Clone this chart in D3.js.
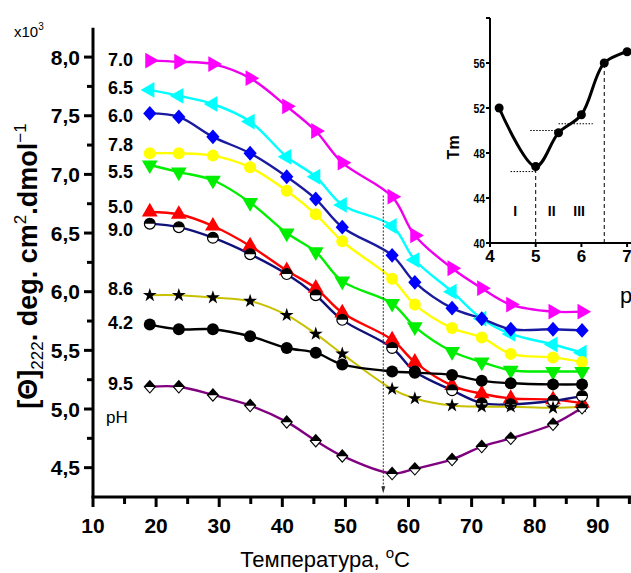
<!DOCTYPE html>
<html>
<head>
<meta charset="utf-8">
<script src="https://cdn.jsdelivr.net/npm/d3@7"></script>
<style>
  html, body { margin: 0; padding: 0; background: #fff; }
  svg { display: block; font-family: "Liberation Sans", Arial, sans-serif; }
</style>
</head>
<body>
<svg id="chart" width="631" height="573"></svg>
<script>
// Temperatures (°C) at which ellipticity was measured
const temps = [19, 23.6, 29, 34.9, 40.7, 45.3, 49.5, 57.4, 61, 66.9, 71.6, 76.2, 82.9, 87.5];

// [Θ]222 (×10^3 deg·cm²·dmol⁻¹) for each pH
const pH70 = [7.97, 7.96, 7.94, 7.82, 7.58, 7.37, 7.10, 6.81, 6.48, 6.20, 6.03, 5.89, 5.83, 5.83];
const pH65 = [7.72, 7.67, 7.60, 7.45, 7.15, 6.98, 6.74, 6.56, 6.27, 6.00, 5.77, 5.64, 5.55, 5.48];
const pH60 = [7.52, 7.49, 7.32, 7.18, 6.98, 6.79, 6.55, 6.31, 6.08, 5.86, 5.77, 5.68, 5.68, 5.67];
const pH78 = [7.18, 7.18, 7.16, 7.06, 6.86, 6.66, 6.43, 6.11, 5.89, 5.69, 5.61, 5.47, 5.44, 5.40];
const pH55 = [7.08, 7.02, 6.95, 6.76, 6.50, 6.34, 6.09, 5.90, 5.70, 5.49, 5.40, 5.33, 5.32, 5.32];
const pH50 = [6.68, 6.66, 6.56, 6.39, 6.18, 6.03, 5.82, 5.59, 5.40, 5.20, 5.13, 5.09, 5.08, 5.05];
const pH90 = [6.58, 6.55, 6.46, 6.32, 6.15, 5.97, 5.76, 5.52, 5.32, 5.16, 5.05, 5.04, 5.07, 5.11];
const pH86 = [5.97, 5.97, 5.95, 5.92, 5.80, 5.64, 5.47, 5.17, 5.09, 5.03, 5.02, 5.02, 5.01, 5.02];
const pH42 = [5.72, 5.68, 5.68, 5.62, 5.52, 5.48, 5.38, 5.32, 5.31, 5.29, 5.24, 5.22, 5.21, 5.21];
const pH95 = [5.19, 5.19, 5.12, 5.03, 4.89, 4.73, 4.60, 4.45, 4.49, 4.57, 4.68, 4.75, 4.87, 5.01];

// Series labels printed at the left of the curves (top to bottom)
const seriesLabels = ["7.0", "6.5", "6.0", "7.8", "5.5", "5.0", "9.0", "8.6", "4.2", "9.5"];

// Main axis ticks
const yTicks = [4.5, 5.0, 5.5, 6.0, 6.5, 7.0, 7.5, 8.0];
const xTicks = [10, 20, 30, 40, 50, 60, 70, 80, 90];

// Inset: melting temperature Tm versus pH
const insetPH = [4.2, 5.0, 5.5, 6.0, 6.5, 7.0];
const insetTm = [52.0, 46.8, 49.8, 51.4, 56.0, 57.0];
const insetYTicks = [40, 44, 48, 52, 56];
const insetXTicks = [4, 5, 6, 7];
const insetRegions = ["I", "II", "III"];

// Styling for each curve
const series = [
  { label: "7.0", values: pH70, line: "#ee00ee", fill: "#ff00ff", shape: "triRight" },
  { label: "6.5", values: pH65, line: "#00ffff", fill: "#00ffff", shape: "triLeft" },
  { label: "6.0", values: pH60, line: "#1a1aa0", fill: "#0000ff", shape: "diamond" },
  { label: "7.8", values: pH78, line: "#ffff00", fill: "#ffff00", shape: "circle" },
  { label: "5.5", values: pH55, line: "#00ee00", fill: "#00ee00", shape: "triDown" },
  { label: "5.0", values: pH50, line: "#ff0000", fill: "#ff0000", shape: "triUp" },
  { label: "9.0", values: pH90, line: "#10107a", fill: "#000", shape: "halfCircle" },
  { label: "8.6", values: pH86, line: "#c8c000", fill: "#000", shape: "star" },
  { label: "4.2", values: pH42, line: "#000", fill: "#000", shape: "circle" },
  { label: "9.5", values: pH95, line: "#800080", fill: "#000", shape: "halfDiamond" }
];

const svg = d3.select("#chart");

// ---------- main plot ----------
const x = d3.scaleLinear().domain([10, 96]).range([93, 635.7]);
const y = d3.scaleLinear().domain([4.25, 8.25]).range([497, 27.75]);

const fmt = v => d3.format(".1f")(v).replace(".", ",");

// y axis
const gy = svg.append("g").attr("transform", `translate(${x(10)},0)`);
gy.append("line").attr("x1", 0).attr("x2", 0).attr("y1", y(4.25)).attr("y2", y(8.25))
  .attr("stroke", "#000").attr("stroke-width", 3);
d3.range(4.5, 8.01, 0.25).forEach(v => {
  const major = Math.abs(v * 2 - Math.round(v * 2)) < 1e-6;
  gy.append("line").attr("x1", major ? -9 : -6).attr("x2", 0)
    .attr("y1", y(v)).attr("y2", y(v)).attr("stroke", "#000").attr("stroke-width", 3);
});
gy.selectAll("text.yt").data(yTicks).join("text")
  .attr("x", -13).attr("y", d => y(d)).attr("dy", "0.36em")
  .attr("text-anchor", "end").attr("font-size", 21).attr("font-weight", "bold")
  .text(fmt);

// x axis
const gx = svg.append("g").attr("transform", `translate(0,${y(4.25)})`);
gx.append("line").attr("x1", x(10) - 1.5).attr("x2", 631).attr("y1", 0).attr("y2", 0)
  .attr("stroke", "#000").attr("stroke-width", 3);
d3.range(10, 96, 5).forEach(v => {
  const major = v % 10 === 0;
  gx.append("line").attr("x1", x(v)).attr("x2", x(v)).attr("y1", 0).attr("y2", major ? 10 : 7)
    .attr("stroke", "#000").attr("stroke-width", 3);
});
gx.selectAll("text.xt").data(xTicks).join("text")
  .attr("x", d => x(d)).attr("y", 36)
  .attr("text-anchor", "middle").attr("font-size", 21).attr("font-weight", "bold")
  .text(d => d);

// multiplier
const mult = svg.append("text").attr("x", 14).attr("y", 37).attr("font-size", 15);
mult.append("tspan").text("x10");
mult.append("tspan").attr("dy", -7).attr("font-size", 10).text("3");

// y-axis title
const yt = svg.append("text")
  .attr("transform", `translate(37,266) rotate(-90)`)
  .attr("text-anchor", "middle").attr("font-size", 27).attr("font-weight", "bold");
yt.append("tspan").text("[Θ]");
yt.append("tspan").attr("dy", 6).attr("font-size", 17).attr("font-weight", "normal").text("222");
yt.append("tspan").attr("dy", -6).text(". deg. cm");
yt.append("tspan").attr("dy", -11).attr("font-size", 17).attr("font-weight", "normal").text("2");
yt.append("tspan").attr("dy", 11).text(".dmol");
yt.append("tspan").attr("dy", -11).attr("font-size", 17).attr("font-weight", "normal").text("−1");

// x-axis title
const xt = svg.append("text").attr("x", 325).attr("y", 567)
  .attr("text-anchor", "middle").attr("font-size", 22);
xt.append("tspan").text("Температура, ");
xt.append("tspan").attr("dy", -9).attr("font-size", 15).text("o");
xt.append("tspan").attr("dy", 9).text("C");

// marker drawing
function marker(g, shape, fill, size) {
  const s = size;
  if (shape === "triRight" || shape === "triLeft" || shape === "triUp" || shape === "triDown") {
    const rot = { triUp: 0, triRight: 90, triDown: 180, triLeft: 270 }[shape];
    g.append("path").attr("d", d3.symbol(d3.symbolTriangle, s * 9)())
      .attr("transform", `rotate(${rot})`).attr("fill", fill);
  } else if (shape === "diamond") {
    g.append("path").attr("d", `M0,${-s * 0.62}L${s * 0.55},0L0,${s * 0.62}L${-s * 0.55},0Z`).attr("fill", fill);
  } else if (shape === "circle") {
    g.append("circle").attr("r", s * 0.5).attr("fill", fill);
  } else if (shape === "star") {
    g.append("path").attr("d", d3.symbol(d3.symbolStar, s * 5)()).attr("fill", fill);
  } else if (shape === "halfCircle") {
    const r = s * 0.45;
    g.append("circle").attr("r", r).attr("fill", "#fff").attr("stroke", "#000").attr("stroke-width", 1.2);
    g.append("path").attr("d", `M${-r},0A${r},${r} 0 0 1 ${r},0Z`).attr("fill", "#000");
  } else if (shape === "halfDiamond") {
    const h = s * 0.58, w = s * 0.52;
    g.append("path").attr("d", `M0,${-h}L${w},0L0,${h}L${-w},0Z`).attr("fill", "#000");
    g.append("path").attr("d", `M${-w * 0.7},${h * 0.05}L${w * 0.7},${h * 0.05}L0,${h * 0.78}Z`).attr("fill", "#fff");
  }
}

const line = d3.line().x((d, i) => x(temps[i])).y(d => y(d)).curve(d3.curveCatmullRom.alpha(0.5));

const plot = svg.append("g");
series.forEach(s => {
  plot.append("path").datum(s.values).attr("d", line)
    .attr("fill", "none").attr("stroke", s.line).attr("stroke-width", s.shape === "star" ? 2 : 2.4);
});
series.forEach(s => {
  s.values.forEach((v, i) => {
    const g = plot.append("g").attr("transform", `translate(${x(temps[i])},${y(v)})`);
    marker(g, s.shape, s.fill, 12);
  });
});

// curve labels at the left
const labelY = [60, 88, 116, 145, 172, 207, 230, 289, 323, 384];
svg.selectAll("text.sl").data(seriesLabels).join("text")
  .attr("x", 108).attr("y", (d, i) => labelY[i]).attr("dy", "0.36em")
  .attr("font-size", 18).attr("font-weight", "bold").text(d => d);
svg.append("text").attr("x", 106).attr("y", 417).attr("dy", "0.36em")
  .attr("font-size", 17).text("pH");

// vertical marker at ~56 °C with arrow
const xm = x(56);
svg.append("line").attr("x1", xm).attr("x2", xm).attr("y1", y(6.82)).attr("y2", y(4.3))
  .attr("stroke", "#333").attr("stroke-width", 1).attr("stroke-dasharray", "2,1.5");
svg.append("path").attr("d", `M${xm - 2},${y(4.3) - 5}L${xm + 2},${y(4.3) - 5}L${xm},${y(4.3) + 2}Z`).attr("fill", "#333");

// ---------- inset: Tm vs pH ----------
const ix = d3.scaleLinear().domain([4, 8]).range([490, 672.8]);
const iy = d3.scaleLinear().domain([40, 60]).range([243, 18]);
const inset = svg.append("g");
inset.append("rect").attr("x", 452).attr("y", 8).attr("width", 180).attr("height", 254).attr("fill", "#fff");

inset.append("line").attr("x1", ix(4)).attr("x2", ix(4)).attr("y1", iy(40)).attr("y2", iy(60))
  .attr("stroke", "#000").attr("stroke-width", 2);
inset.append("line").attr("x1", ix(4)).attr("x2", 631).attr("y1", iy(40)).attr("y2", iy(40))
  .attr("stroke", "#000").attr("stroke-width", 2);
insetYTicks.concat([60]).forEach(v => {
  inset.append("line").attr("x1", ix(4) - 4).attr("x2", ix(4)).attr("y1", iy(v)).attr("y2", iy(v))
    .attr("stroke", "#000").attr("stroke-width", 2);
});
insetXTicks.forEach(v => {
  inset.append("line").attr("x1", ix(v)).attr("x2", ix(v)).attr("y1", iy(40)).attr("y2", iy(40) + 4)
    .attr("stroke", "#000").attr("stroke-width", 2);
});
inset.selectAll("text.iyt").data(insetYTicks).join("text")
  .attr("x", ix(4) - 5).attr("y", d => iy(d)).attr("dy", "0.36em")
  .attr("text-anchor", "end").attr("font-size", 13).attr("font-weight", "bold")
  .attr("transform", d => `translate(${ix(4) - 5},0) scale(0.8,1) translate(${-(ix(4) - 5)},0)`)
  .text(d => d);
inset.selectAll("text.ixt").data(insetXTicks).join("text")
  .attr("x", d => ix(d)).attr("y", iy(40) + 19)
  .attr("text-anchor", "middle").attr("font-size", 17).attr("font-weight", "bold")
  .text(d => d);
inset.append("text").attr("transform", `translate(459,${iy(48.5)}) rotate(-90)`)
  .attr("text-anchor", "middle").attr("font-size", 16).attr("font-weight", "bold").text("Tm");
inset.append("text").attr("x", 620).attr("y", 303).attr("font-size", 22).text("pH");

// dashed guides
[[5.0, 46.8], [6.5, 56.0]].forEach(([p, t]) => {
  inset.append("line").attr("x1", ix(p)).attr("x2", ix(p)).attr("y1", iy(40)).attr("y2", iy(t))
    .attr("stroke", "#000").attr("stroke-width", 1).attr("stroke-dasharray", "4,3");
});
[[4.45, 5.0, 46.35], [4.88, 5.5, 50.0], [5.5, 6.25, 50.6]].forEach(([a, b, t]) => {
  inset.append("line").attr("x1", ix(a)).attr("x2", ix(b)).attr("y1", iy(t)).attr("y2", iy(t))
    .attr("stroke", "#000").attr("stroke-width", 1).attr("stroke-dasharray", "1.5,1.5");
});
inset.selectAll("text.reg").data(insetRegions).join("text")
  .attr("x", (d, i) => ix([4.55, 5.35, 5.95][i])).attr("y", iy(42.4))
  .attr("text-anchor", "middle").attr("font-size", 14).attr("font-weight", "bold")
  .text(d => d);

const iline = d3.line().x((d, i) => ix(insetPH[i])).y(d => iy(d)).curve(d3.curveCatmullRom.alpha(0.5));
inset.append("path").datum(insetTm).attr("d", iline)
  .attr("fill", "none").attr("stroke", "#000").attr("stroke-width", 3);
insetTm.forEach((v, i) => {
  inset.append("circle").attr("cx", ix(insetPH[i])).attr("cy", iy(v)).attr("r", 4.5).attr("fill", "#000");
});
</script>
</body>
</html>
